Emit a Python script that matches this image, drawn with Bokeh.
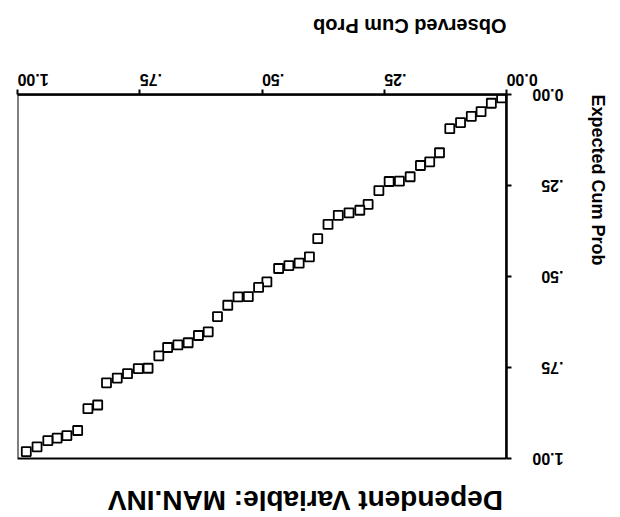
import math
from bokeh.plotting import figure
from bokeh.models import Range1d, FixedTicker, Label, BoxAnnotation
from bokeh.embed import file_html
from bokeh.resources import INLINE

# Observed vs expected cumulative probabilities
observed = [0.010, 0.031, 0.052, 0.072, 0.094, 0.116, 0.137, 0.157, 0.176, 0.197,
            0.219, 0.240, 0.261, 0.283, 0.300, 0.322, 0.344, 0.365, 0.386, 0.403,
            0.424, 0.445, 0.466, 0.490, 0.507, 0.528, 0.549, 0.570, 0.591, 0.610,
            0.630, 0.651, 0.672, 0.693, 0.711, 0.733, 0.753, 0.775, 0.796, 0.818,
            0.836, 0.856, 0.877, 0.899, 0.919, 0.938, 0.960, 0.982]
expected = [0.009, 0.024, 0.047, 0.060, 0.077, 0.094, 0.160, 0.185, 0.195, 0.226,
            0.238, 0.239, 0.264, 0.302, 0.318, 0.325, 0.332, 0.357, 0.396, 0.446,
            0.463, 0.470, 0.478, 0.515, 0.530, 0.555, 0.556, 0.579, 0.610, 0.652,
            0.662, 0.682, 0.688, 0.695, 0.718, 0.752, 0.753, 0.767, 0.779, 0.792,
            0.853, 0.863, 0.923, 0.937, 0.944, 0.951, 0.968, 0.981]

tick_values = [0.0, 0.25, 0.5, 0.75, 1.0]
tick_labels = ["0.00", ".25", ".50", ".75", "1.00"]
title_text = "Dependent Variable: MAN.INV"
x_title = "Observed Cum Prob"
y_title = "Expected Cum Prob"

FONT = "Liberation Sans"

# frame: 364 px for the 0..1 expected range, extended downward to hold the title
p = figure(width=620, height=516, output_backend="svg", toolbar_location=None,
           x_range=Range1d(1, 0), y_range=Range1d(1.1593, 0),
           x_axis_location="above", y_axis_location="right",
           min_border_left=17, min_border_right=112,
           min_border_top=94, min_border_bottom=0)

p.grid.visible = False
p.outline_line_color = None
p.background_fill_color = "white"
p.border_fill_color = "white"

p.add_layout(BoxAnnotation(left=0, right=1, top=0, bottom=1, fill_alpha=0,
                           line_color="black", line_alpha=1, line_width=2))

overrides = {v: t for v, t in zip(tick_values, tick_labels)}
for ax in (p.xaxis[0], p.yaxis[0]):
    ax.ticker = FixedTicker(ticks=tick_values)
    ax.bounds = (0, 1)
    ax.major_label_overrides = overrides
    ax.major_label_text_font = FONT
    ax.major_label_text_font_style = "bold"
    ax.major_label_text_font_size = "16px"
    ax.major_label_text_color = "black"
    ax.axis_line_width = 2.5
    ax.axis_line_color = "black"
    ax.major_tick_out = 5
    ax.major_tick_in = 0
    ax.major_tick_line_width = 2
    ax.minor_tick_line_color = None
    ax.axis_label_text_font = FONT
    ax.axis_label_text_font_style = "bold"
    ax.axis_label_text_color = "black"

xa = p.xaxis[0]
xa.major_label_orientation = -math.pi
xa.major_label_standoff = 10
xa.axis_label = x_title
xa.axis_label_orientation = math.pi
xa.axis_label_align = "start"
xa.axis_label_standoff = 39
xa.axis_label_text_font_size = "20px"

ya = p.yaxis[0]
ya.major_label_orientation = math.pi
ya.major_label_standoff = 52
ya.axis_label = y_title
ya.axis_label_orientation = -math.pi / 2
ya.axis_label_align = "start"
ya.axis_label_standoff = 0
ya.axis_label_text_font_size = "18px"

p.scatter(observed, expected, marker="square", size=9, fill_color="white",
          line_color="black", line_width=1.8)

p.add_layout(Label(x=0.4114, y=1.1154, text=title_text, angle=math.pi,
                   text_align="center", text_baseline="middle",
                   text_font=FONT, text_font_style="bold", text_font_size="28px",
                   text_color="black"))

open("out.html", "w").write(file_html(p, INLINE))
